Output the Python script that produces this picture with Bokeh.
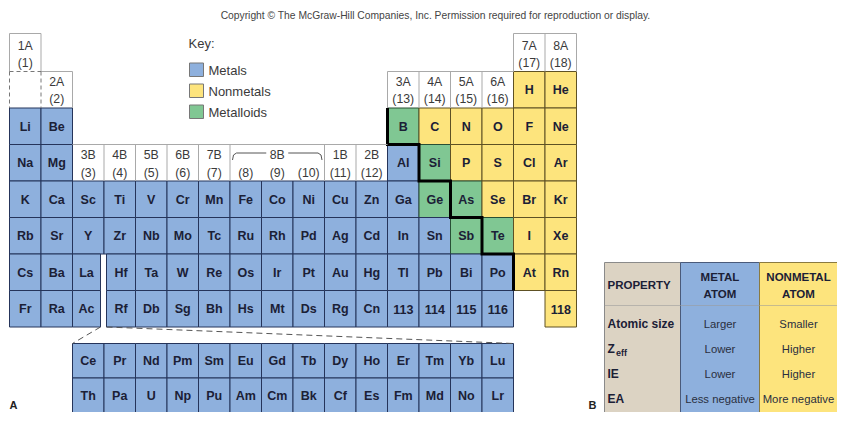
from bokeh.plotting import figure
from bokeh.models import ColumnDataSource, Range1d
from bokeh.embed import file_html
from bokeh.resources import INLINE
from bokeh.core.properties import value

# ---------------- data ----------------
period_1 = [None] * 16 + ["H", "He"]
period_2 = ["Li", "Be"] + [None] * 10 + ["B", "C", "N", "O", "F", "Ne"]
period_3 = ["Na", "Mg"] + [None] * 10 + ["Al", "Si", "P", "S", "Cl", "Ar"]
period_4 = ["K", "Ca", "Sc", "Ti", "V", "Cr", "Mn", "Fe", "Co", "Ni", "Cu", "Zn", "Ga", "Ge", "As", "Se", "Br", "Kr"]
period_5 = ["Rb", "Sr", "Y", "Zr", "Nb", "Mo", "Tc", "Ru", "Rh", "Pd", "Ag", "Cd", "In", "Sn", "Sb", "Te", "I", "Xe"]
period_6 = ["Cs", "Ba", "La", "Hf", "Ta", "W", "Re", "Os", "Ir", "Pt", "Au", "Hg", "Tl", "Pb", "Bi", "Po", "At", "Rn"]
period_7 = ["Fr", "Ra", "Ac", "Rf", "Db", "Sg", "Bh", "Hs", "Mt", "Ds", "Rg", "Cn", "113", "114", "115", "116", None, "118"]
lanthanides = ["Ce", "Pr", "Nd", "Pm", "Sm", "Eu", "Gd", "Tb", "Dy", "Ho", "Er", "Tm", "Yb", "Lu"]
actinides = ["Th", "Pa", "U", "Np", "Pu", "Am", "Cm", "Bk", "Cf", "Es", "Fm", "Md", "No", "Lr"]

nonmetals = ["H", "He", "C", "N", "O", "F", "Ne", "P", "S", "Cl", "Ar", "Se", "Br", "Kr", "I", "Xe", "At", "Rn", "118"]
metalloids = ["B", "Si", "Ge", "As", "Sb", "Te"]

a_group_names = ["1A", "2A", "3A", "4A", "5A", "6A", "7A", "8A"]
a_group_cols = [1, 2, 13, 14, 15, 16, 17, 18]
b_group_names = ["3B", "4B", "5B", "6B", "7B", "8B", "1B", "2B"]
b_group_cols = [3, 4, 5, 6, 7, 9, 11, 12]
b_numbers = [3, 4, 5, 6, 7, 8, 9, 10, 11, 12]

key_labels = ["Metals", "Nonmetals", "Metalloids"]

property_names = ["Atomic size", "Z", "IE", "EA"]
metal_values = ["Larger", "Lower", "Lower", "Less negative"]
nonmetal_values = ["Smaller", "Higher", "Higher", "More negative"]

# ---------------- style / layout ----------------
C_METAL = "#8eb0dd"
C_NONMETAL = "#fde47d"
C_METALLOID = "#80c793"
C_BEIGE = "#dcd3c3"
LINE = {"metal": "#25345a", "nonmetal": "#5e5124", "metalloid": "#284f35"}
FILL = {"metal": C_METAL, "nonmetal": C_NONMETAL, "metalloid": C_METALLOID}
TXT = "#1b2036"
HDR = "#3a3a3a"
GREY = "#a9a9a9"
FONT = value("Liberation Sans")

W, H = 837, 412
X0, CW = 9.0, 31.5
Y0, RH = 71.0, 36.5
LAN_TOP, LAN_RH = 343.0, 34.5


def col_left(c):
    return X0 + (c - 1) * CW


def row_top(r):
    return Y0 + (r - 1) * RH


def category(s):
    if s in nonmetals:
        return "nonmetal"
    if s in metalloids:
        return "metalloid"
    return "metal"


p = figure(width=W, height=H, x_range=Range1d(0, W), y_range=Range1d(H, 0),
           output_backend="svg", toolbar_location=None, min_border=0,
           x_axis_location=None, y_axis_location=None)
p.grid.visible = False
p.outline_line_color = None
p.background_fill_color = "white"
p.border_fill_color = "white"

# ---------------- cells ----------------
cells = dict(left=[], right=[], top=[], bottom=[], fill=[], line=[], x=[], y=[], text=[])
periods = [period_1, period_2, period_3, period_4, period_5, period_6, period_7]
for r, row in enumerate(periods, start=1):
    for c, s in enumerate(row, start=1):
        if s is None:
            continue
        l, rt = col_left(c), col_left(c) + CW
        if r >= 6 and c == 3:
            rt -= 3.5
        if r >= 6 and c == 4:
            l += 2.5
        t, b = row_top(r), row_top(r) + RH
        cat = category(s)
        cells["left"].append(l); cells["right"].append(rt)
        cells["top"].append(t); cells["bottom"].append(b)
        cells["fill"].append(FILL[cat]); cells["line"].append(LINE[cat])
        cells["x"].append((l + rt) / 2); cells["y"].append((t + b) / 2 + 0.5)
        cells["text"].append(s)

for k, series in enumerate([lanthanides, actinides]):
    for i, s in enumerate(series):
        l = col_left(3) + i * CW
        t = LAN_TOP + k * LAN_RH
        cells["left"].append(l); cells["right"].append(l + CW)
        cells["top"].append(t); cells["bottom"].append(t + LAN_RH)
        cells["fill"].append(C_METAL); cells["line"].append(LINE["metal"])
        cells["x"].append(l + CW / 2); cells["y"].append(t + LAN_RH / 2 + 0.5)
        cells["text"].append(s)

src = ColumnDataSource(cells)
p.quad(left="left", right="right", top="top", bottom="bottom", fill_color="fill",
       line_color="line", line_width=1, source=src)
p.text(x="x", y="y", text="text", source=src, text_font=FONT, text_font_style="bold",
       text_font_size="12.5px", text_color=TXT, text_align="center", text_baseline="middle")

# metal / nonmetal staircase
stair_x = [col_left(13), col_left(13), col_left(14), col_left(14), col_left(15), col_left(15),
           col_left(16), col_left(16), col_left(17), col_left(17)]
stair_y = [row_top(2), row_top(3), row_top(3), row_top(4), row_top(4), row_top(5),
           row_top(5), row_top(6), row_top(6), row_top(7)]
p.line(stair_x, stair_y, line_width=3, line_color="black", line_join="miter")

# dashed connectors to the f-block
r7b = row_top(8)
p.segment(x0=[col_left(4) - 3.5, col_left(4) + 2.5], y0=[r7b, r7b],
          x1=[col_left(3), col_left(3) + 14 * CW], y1=[LAN_TOP, LAN_TOP],
          line_color="#555555", line_width=1, line_dash="6 4")

# ---------------- group headers ----------------
box_top = 33.0
solid_x = [
    [col_left(1), col_left(1), col_left(2), col_left(2)],            # 1A box
    [col_left(2), col_left(3), col_left(3)],                           # 2A top/right
    [col_left(17), col_left(13), col_left(13)],                        # 3A-6A top/left
    [col_left(17), col_left(17), col_left(19), col_left(19)],          # 7A/8A box
    [col_left(13), col_left(3)],                                       # B headers top
]
solid_y = [
    [row_top(1), box_top, box_top, row_top(1)],
    [row_top(1), row_top(1), row_top(2)],
    [row_top(1), row_top(1), row_top(2)],
    [row_top(1), box_top, box_top, row_top(1)],
    [row_top(3), row_top(3)],
]
for c in [14, 15, 16]:
    solid_x.append([col_left(c), col_left(c)]); solid_y.append([row_top(1), row_top(2)])
solid_x.append([col_left(18), col_left(18)]); solid_y.append([box_top, row_top(1)])
for c in [4, 5, 6, 7, 8, 11, 12]:
    solid_x.append([col_left(c), col_left(c)]); solid_y.append([row_top(3), row_top(4)])
p.multi_line(solid_x, solid_y, line_color=GREY, line_width=1)

dash_x = [[col_left(1), col_left(2)], [col_left(1), col_left(1)], [col_left(2), col_left(2)]]
dash_y = [[row_top(1), row_top(1)], [row_top(1), row_top(2)], [row_top(1), row_top(2)]]
p.multi_line(dash_x, dash_y, line_color="#777777", line_width=1, line_dash="4 3")

hx, hy, ht = [], [], []
for name, c in zip(a_group_names, a_group_cols):
    cx = col_left(c) + CW / 2
    if c in (1, 17, 18):
        y1, y2 = box_top + 12, box_top + 29
    else:
        y1, y2 = row_top(1) + 10, row_top(1) + 27
    hx += [cx, cx]; hy += [y1, y2]; ht += [name, "(%d)" % c]
for name, c in zip(b_group_names, b_group_cols):
    hx.append(col_left(c) + CW / 2); hy.append(row_top(3) + 10.5); ht.append(name)
for n in b_numbers:
    hx.append(col_left(n) + CW / 2); hy.append(row_top(3) + 28); ht.append("(%d)" % n)
p.text(x=hx, y=hy, text=ht, text_font=FONT, text_font_size="12.3px", text_color=HDR,
       text_align="center", text_baseline="middle")

# 8B bracket
by = row_top(3) + 8.5
l8, r10 = col_left(8) + 2.5, col_left(11) - 2.5
mid9 = col_left(9) + CW / 2
p.multi_line([[l8, l8 + 1, l8 + 4, mid9 - 11], [mid9 + 11, r10 - 4, r10 - 1, r10]],
             [[by + 7, by + 2, by, by], [by, by, by + 2, by + 7]],
             line_color="#555555", line_width=1)

# ---------------- key ----------------
key_fill = [C_METAL, C_NONMETAL, C_METALLOID]
kx, ky0, kdy = 189.0, 62.5, 21.0
ktops = [ky0 + i * kdy for i in range(len(key_labels))]
p.quad(left=[kx] * 3, right=[kx + 14] * 3, top=ktops, bottom=[t + 13.5 for t in ktops],
       fill_color=key_fill, line_color="#777777", line_width=1)
p.text(x=[kx + 19] * 3, y=[t + 7 for t in ktops], text=key_labels, text_font=FONT,
       text_font_size="13px", text_color=HDR, text_align="left", text_baseline="middle")
p.text(x=[188], y=[43], text=["Key:"], text_font=FONT, text_font_size="13px",
       text_color=HDR, text_align="left", text_baseline="middle")

# copyright
p.text(x=[435], y=[15], text=["Copyright \u00a9 The McGraw-Hill Companies, Inc. Permission required for reproduction or display."],
       text_font=FONT, text_font_size="10.3px", text_color="#444444", text_align="center",
       text_baseline="middle")

# panel letters
p.text(x=[9, 588], y=[404, 404], text=["A", "B"], text_font=FONT, text_font_style="bold",
       text_font_size="11px", text_color="#222222", text_align="left", text_baseline="middle")

# ---------------- property table (B) ----------------
tx = [604, 680, 759, 845]
t_top, t_bot, t_hdr = 262.0, 430.0, 305.0
p.quad(left=tx[:3], right=tx[1:], top=[t_top] * 3, bottom=[t_bot] * 3,
       fill_color=[C_BEIGE, C_METAL, C_NONMETAL], line_color=["#8a8a8a", "#4a5a7a", "#8a7a40"],
       line_width=1)
p.segment(x0=[tx[0]], y0=[t_hdr], x1=[tx[3]], y1=[t_hdr], line_color="#9a9a9a",
          line_width=0.8, line_alpha=0.7)

p.text(x=[607], y=[284], text=["PROPERTY"], text_font=FONT, text_font_style="bold",
       text_font_size="11.5px", text_color=TXT, text_align="left", text_baseline="middle")
colc = [(tx[1] + tx[2]) / 2, (tx[2] + W) / 2]
p.text(x=colc * 2, y=[276, 276, 293, 293], text=["METAL", "NONMETAL", "ATOM", "ATOM"],
       text_font=FONT, text_font_style="bold", text_font_size="11.5px", text_color=TXT,
       text_align="center", text_baseline="middle")

row_y = [323 + 25 * i for i in range(len(property_names))]
p.text(x=[607] * 4, y=row_y, text=property_names, text_font=FONT, text_font_style="bold",
       text_font_size="12px", text_color=TXT, text_align="left", text_baseline="middle")
p.text(x=[615.5], y=[row_y[1] + 4], text=["eff"], text_font=FONT, text_font_style="bold",
       text_font_size="9px", text_color=TXT, text_align="left", text_baseline="middle")
p.text(x=[colc[0]] * 4, y=row_y, text=metal_values, text_font=FONT, text_font_size="11.3px",
       text_color="#2a2f40", text_align="center", text_baseline="middle")
p.text(x=[colc[1]] * 4, y=row_y, text=nonmetal_values, text_font=FONT, text_font_size="11.3px",
       text_color="#2a2f40", text_align="center", text_baseline="middle")

open("out.html", "w").write(file_html(p, INLINE))
